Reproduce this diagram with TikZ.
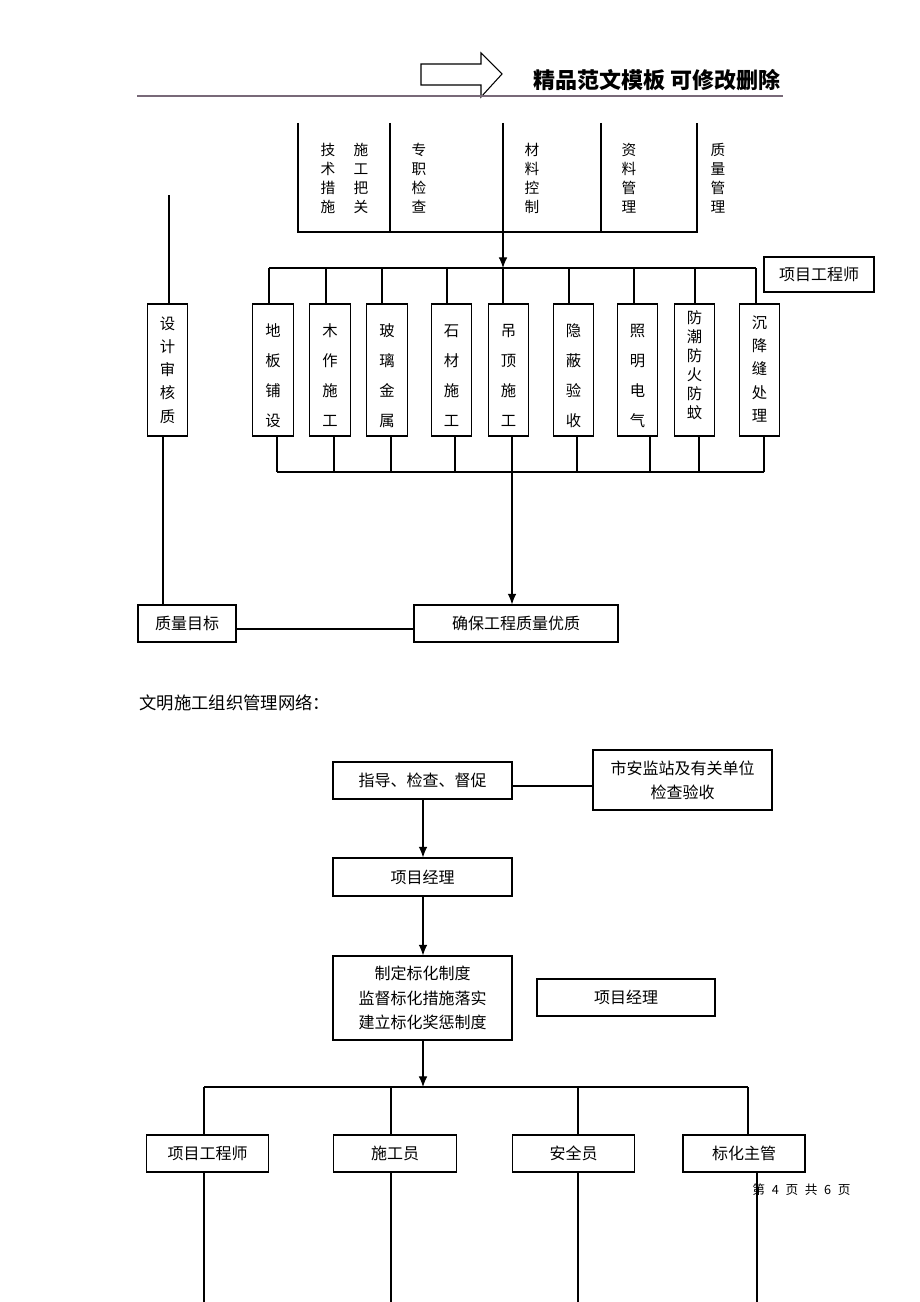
\documentclass[tikz,border=0pt]{standalone}
\usepackage{fontspec}
\usetikzlibrary{arrows.meta}
\newfontfamily\cjk{Noto Sans CJK SC}
\definecolor{hdrline}{RGB}{120,105,120}
\begin{document}
\begin{tikzpicture}[x=0.75pt,y=-0.75pt,line width=0.8pt,
  box/.style={draw,inner sep=0pt,align=center,font=\cjk\fontsize{12}{18}\selectfont},
  colbox/.style={draw,inner sep=0pt,minimum width=30.5pt,minimum height=99pt},
  coltext/.style={inner sep=0pt,align=center,font=\cjk\fontsize{11.5}{#1}\selectfont},
  toptext/.style={inner sep=0pt,align=center,font=\cjk\fontsize{11}{14.25}\selectfont},
  arr/.style={-{Latex[length=8pt,width=6.5pt]}}]
\useasboundingbox (0,0) rectangle (920,1302);

% ---------- header ----------
\draw (421,64) -- (481,64) -- (481,53) -- (502,74) -- (481,97) -- (481,85) -- (421,85) -- cycle;
\draw[line width=1.4pt,hdrline] (137,96) -- (783,96);
\node[anchor=east,inner sep=0pt,font=\cjk\bfseries\fontsize{16.5}{18}\selectfont] (hdr) at (781,80) {精品范文模板\ 可修改删除};

% ---------- chart 1: top frame ----------
\draw (298,123) -- (298,232) -- (697,232) -- (697,123);
\draw (390,123) -- (390,232);
\draw (601,123) -- (601,232);
\node[toptext] (t1) at (328,178.5) {技\\术\\措\\施};
\node[toptext] (t2) at (361,178.5) {施\\工\\把\\关};
\node[toptext] (t3) at (419,178.5) {专\\职\\检\\查};
\node[toptext] (t4) at (532,178.5) {材\\料\\控\\制};
\node[toptext] (t5) at (629,178.5) {资\\料\\管\\理};
\node[toptext] (t6) at (718,178.5) {质\\量\\管\\理};

\coordinate (busTL) at (269,268);
\coordinate (busTR) at (756,268);
\coordinate (arrTop) at (503,123);
\draw[arr] (arrTop) -- (arrTop |- busTL);
\draw (busTL) -- (busTR);

\node[box,minimum width=82.5pt,minimum height=26.25pt] (pe1) at (819,274.5) {项目工程师};

% column boxes
\node[colbox] (sj) at (167.5,370) {};
\node[coltext=17.4pt] at (167.5,370) {设\\计\\审\\核\\质};
\node[colbox] (db) at (273,370) {};
\node[coltext=22.5pt] at (273,375.5) {地\\板\\铺\\设};
\node[colbox] (mz) at (330,370) {};
\node[coltext=22.5pt] at (330,375.5) {木\\作\\施\\工};
\node[colbox] (bl) at (387,370) {};
\node[coltext=22.5pt] at (387,375.5) {玻\\璃\\金\\属};
\node[colbox] (sc) at (451.5,370) {};
\node[coltext=22.5pt] at (451.5,375.5) {石\\材\\施\\工};
\node[colbox] (dd) at (508.5,370) {};
\node[coltext=22.5pt] at (508.5,375.5) {吊\\顶\\施\\工};
\node[colbox] (yb) at (573.5,370) {};
\node[coltext=22.5pt] at (573.5,375.5) {隐\\蔽\\验\\收};
\node[colbox] (zm) at (637.5,370) {};
\node[coltext=22.5pt] at (637.5,375.5) {照\\明\\电\\气};
\node[colbox] (fc) at (694.5,370) {};
\node[coltext=14.25pt] at (694.5,365) {防\\潮\\防\\火\\防\\蚊};
\node[colbox] (cj) at (759.5,370) {};
\node[coltext=17.6pt] at (759.5,369) {沉\\降\\缝\\处\\理};

% drops from top bus
\draw (269,268) -- (269,0 |- db.north);
\draw (326,268) -- (326,0 |- mz.north);
\draw (382,268) -- (382,0 |- bl.north);
\draw (447,268) -- (447,0 |- sc.north);
\draw (503,268) -- (503,0 |- dd.north);
\draw (569,268) -- (569,0 |- yb.north);
\draw (634,268) -- (634,0 |- zm.north);
\draw (695,268) -- (695,0 |- fc.north);
\draw (756,268) -- (756,0 |- cj.north);

% drops to bottom bus
\coordinate (busBL) at (277,472);
\coordinate (busBR) at (764,472);
\draw (busBL) -- (busBR);
\draw (277,0 |- db.south) -- (277,472);
\draw (334,0 |- mz.south) -- (334,472);
\draw (391,0 |- bl.south) -- (391,472);
\draw (455,0 |- sc.south) -- (455,472);
\draw (577,0 |- yb.south) -- (577,472);
\draw (650,0 |- zm.south) -- (650,472);
\draw (699,0 |- fc.south) -- (699,472);
\draw (764,0 |- cj.south) -- (764,472);

\node[box,minimum width=73.5pt,minimum height=27.75pt] (zlmb) at (187,623.5) {质量目标};
\node[box,minimum width=153pt,minimum height=27.75pt] (qb) at (516,623.5) {确保工程质量优质};

\draw[arr] (512,0 |- dd.south) -- (512,0 |- qb.north);
\coordinate (sjtop) at (169,195);
\draw (sjtop) -- (sjtop |- sj.north);
\draw (163,0 |- sj.south) -- (163,0 |- zlmb.north);
\draw (zlmb.east |- 0,629) -- (qb.west |- 0,629);

% ---------- caption ----------
\node[anchor=west,inner sep=0pt,font=\cjk\fontsize{13}{15}\selectfont] (cap) at (139,703) {文明施工组织管理网络：};

% ---------- chart 2 ----------
\node[box,minimum width=134.25pt,minimum height=27.75pt] (zd) at (422.5,780.5) {指导、检查、督促};
\node[box,minimum width=134.25pt,minimum height=45pt] (saj) at (682.5,780) {市安监站及有关单位\\检查验收};
\draw (zd.east |- 0,786) -- (saj.west |- 0,786);
\node[box,minimum width=134.25pt,minimum height=28.5pt] (xm) at (422.5,877) {项目经理};
\draw[arr] (423,0 |- zd.south) -- (423,0 |- xm.north);
\node[box,minimum width=134.25pt,minimum height=63pt,font=\cjk\fontsize{12}{18.4}\selectfont] (zd2) at (422.5,998) {制定标化制度\\监督标化措施落实\\建立标化奖惩制度};
\draw[arr] (423,0 |- xm.south) -- (423,0 |- zd2.north);
\node[box,minimum width=133.5pt,minimum height=27.75pt] (xm2) at (626,997.5) {项目经理};

\coordinate (bus2L) at (204,1087);
\coordinate (bus2R) at (748,1087);
\draw[arr] (423,0 |- zd2.south) -- (423,1087);
\draw (bus2L) -- (bus2R);

\node[box,minimum width=92pt,minimum height=27.75pt] (gc) at (207.5,1153.5) {项目工程师};
\node[box,minimum width=92pt,minimum height=27.75pt] (sg) at (395,1153.5) {施工员};
\node[box,minimum width=92pt,minimum height=27.75pt] (aq) at (573.5,1153.5) {安全员};
\node[box,minimum width=91.5pt,minimum height=27.75pt] (bh) at (744,1153.5) {标化主管};

\draw (204,1087) -- (204,0 |- gc.north);
\draw (391,1087) -- (391,0 |- sg.north);
\draw (578,1087) -- (578,0 |- aq.north);
\draw (748,1087) -- (748,0 |- bh.north);

\coordinate (endA) at (204,1302);
\coordinate (endB) at (391,1302);
\coordinate (endC) at (578,1302);
\coordinate (endD) at (757,1302);
\draw (endA |- gc.south) -- (endA);
\draw (endB |- sg.south) -- (endB);
\draw (endC |- aq.south) -- (endC);
\draw (endD |- bh.south) -- (endD);

\node[inner sep=0pt,font=\cjk\fontsize{9.5}{11}\selectfont] (ftr) at (801.5,1190) {第\hspace{5pt}4\hspace{5pt}页\hspace{5pt}共\hspace{5pt}6\hspace{5pt}页};
\end{tikzpicture}
\end{document}
